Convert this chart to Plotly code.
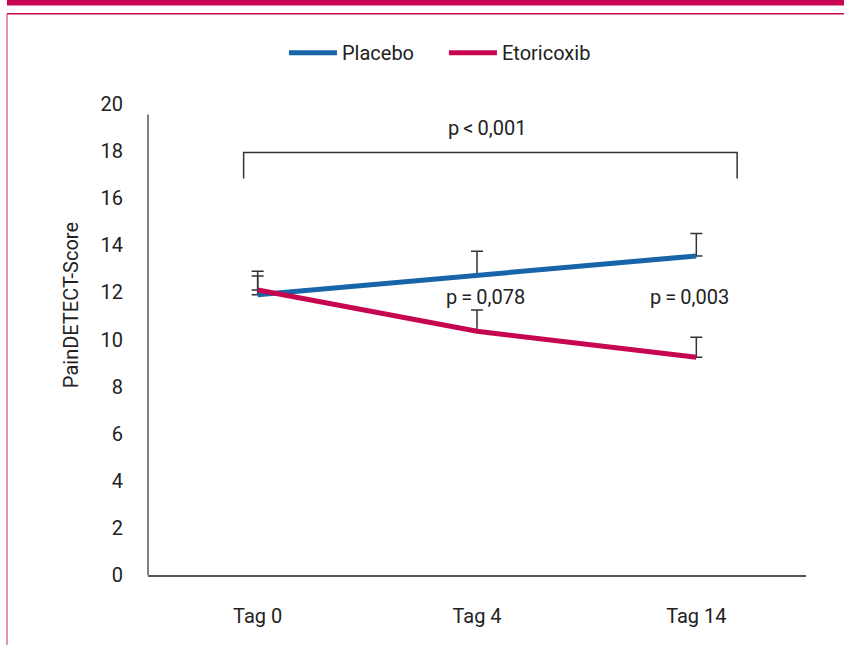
import plotly.graph_objects as go

categories = ["Tag 0", "Tag 4", "Tag 14"]
placebo = [11.9, 12.75, 13.55]
placebo_err = [1.0, 1.0, 0.95]
etoricoxib = [12.1, 10.35, 9.25]
etoricoxib_err = [0.6, 0.9, 0.85]
y_ticks = [0, 2, 4, 6, 8, 10, 12, 14, 16, 18, 20]
p_labels = ["p\u2009=\u20090,078", "p\u2009=\u20090,003"]
p_overall = "p\u2009<\u20090,001"
y_title = "PainDETECT-Score"

BLUE = "#1764a8"
RED = "#c70651"
TXT = "#222222"
FONT = "Roboto, Open Sans, sans-serif"
idx = list(range(len(categories)))

fig = go.Figure()
fig.add_trace(go.Scatter(
    x=idx, y=placebo, mode="lines", name="Placebo",
    line=dict(color=BLUE, width=5),
    error_y=dict(type="data", symmetric=False, array=placebo_err,
                 arrayminus=[0] * 3, color="#333333", thickness=1.5, width=6),
))
fig.add_trace(go.Scatter(
    x=idx, y=etoricoxib, mode="lines", name="Etoricoxib",
    line=dict(color=RED, width=5),
    error_y=dict(type="data", symmetric=False, array=etoricoxib_err,
                 arrayminus=[0] * 3, color="#333333", thickness=1.5, width=6),
))

# significance bracket
bx0, bx1, by_top, by_bot = -0.064, 2.186, 17.94, 16.84
fig.add_shape(type="path", xref="x", yref="y",
              path=f"M {bx0} {by_bot} L {bx0} {by_top} L {bx1} {by_top} L {bx1} {by_bot}",
              line=dict(color="#333333", width=1.5))
fig.add_annotation(x=1.046, y=19.0, text=p_overall, showarrow=False,
                   font=dict(size=20, color=TXT, family=FONT))
fig.add_annotation(x=1.037, y=11.8, text=p_labels[0], showarrow=False,
                   font=dict(size=20, color=TXT, family=FONT))
fig.add_annotation(x=1.97, y=11.8, text=p_labels[1], showarrow=False,
                   font=dict(size=20, color=TXT, family=FONT))

# y axis title
fig.add_annotation(xref="paper", yref="paper", x=-0.139, y=0.572, text=y_title,
                   textangle=-90, showarrow=False,
                   font=dict(size=20, color=TXT, family=FONT))

# y axis line (stops slightly below the top tick, as in the original)
fig.add_shape(type="line", xref="paper", yref="y", x0=0, x1=0, y0=0, y1=19.55,
              line=dict(color="#555555", width=1.5))

# frame decoration
fig.add_shape(type="rect", xref="paper", yref="paper",
              x0=-0.2143, x1=1.07, y0=1.2091, y1=1.24,
              fillcolor=RED, line=dict(width=0), layer="below")
fig.add_shape(type="line", xref="paper", yref="paper",
              x0=-0.2143, x1=1.07, y0=1.1916, y1=1.1916,
              line=dict(color=RED, width=1.5))
fig.add_shape(type="line", xref="paper", yref="paper",
              x0=-0.2143, x1=-0.2143, y0=-0.16, y1=1.1916,
              line=dict(color="#d04a7a", width=1.2))

fig.update_layout(
    width=844, height=645,
    margin=dict(l=148, r=38, t=104, b=70),
    paper_bgcolor="white", plot_bgcolor="white",
    font=dict(family=FONT, size=20, color=TXT),
    showlegend=True,
    legend=dict(orientation="h", x=0.2066, xanchor="left", y=1.109, yanchor="middle",
                font=dict(size=20), traceorder="normal", itemwidth=48,
                entrywidth=97, entrywidthmode="pixels",
                bgcolor="rgba(0,0,0,0)"),
    xaxis=dict(tickmode="array", tickvals=idx, ticktext=categories,
               range=[-0.5, 2.5], showgrid=False, zeroline=False,
               showline=True, linecolor="#555555", linewidth=1.5,
               ticks="outside", ticklen=0, ticklabelstandoff=22,
               tickfont=dict(size=20)),
    yaxis=dict(range=[0, 20], tickvals=y_ticks, showgrid=False, zeroline=False,
               showline=False, ticks="", ticklabelstandoff=24,
               tickfont=dict(size=20)),
)

fig.write_html("out.html", config={"displayModeBar": False},
               post_script="document.body.style.margin='0';document.body.style.overflow='hidden';")
